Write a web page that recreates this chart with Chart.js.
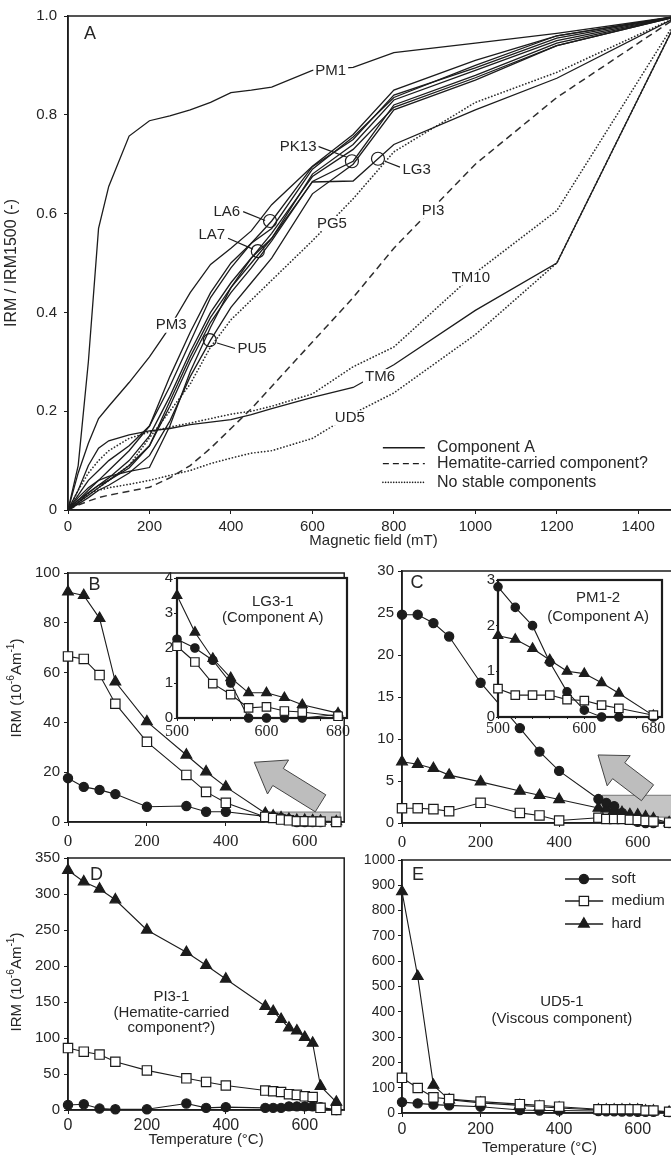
<!DOCTYPE html>
<html><head><meta charset="utf-8"><title>IRM acquisition and thermal demagnetisation</title>
<script src="https://cdn.jsdelivr.net/npm/chart.js@4.4.1/dist/chart.umd.min.js"></script>
<style>
html,body{margin:0;padding:0;background:#fff;overflow:hidden;}
#wrap{position:relative;width:671px;height:1159px;overflow:hidden;background:#fff;}
#wrap canvas{position:absolute;}
</style></head><body>
<div id="wrap">
<canvas id="chartA" width="700" height="550" style="left:0px;top:0px;width:700px;height:550px"></canvas>
<canvas id="chartB" width="352" height="300" style="left:0px;top:560px;width:352px;height:300px"></canvas>
<canvas id="chartC" width="345" height="300" style="left:340px;top:558px;width:345px;height:300px"></canvas>
<canvas id="chartD" width="352" height="314" style="left:0px;top:845px;width:352px;height:314px"></canvas>
<canvas id="chartE" width="345" height="314" style="left:340px;top:845px;width:345px;height:314px"></canvas>
<canvas id="insetB" width="215" height="180" style="left:140px;top:565px;width:215px;height:180px"></canvas>
<canvas id="insetC" width="215" height="180" style="left:460px;top:567px;width:215px;height:180px"></canvas>
</div>
<script>
// ---------------- DATA ----------------
// Panel A: normalised IRM acquisition curves
const fieldSteps = [0,25,50,75,100,150,200,250,300,350,400,450,500,600,700,800,1000,1200,1500];
const irmPM1  = [0,0.09,0.30,0.57,0.655,0.757,0.788,0.798,0.81,0.825,0.845,0.85,0.856,0.89,0.896,0.926,0.945,0.965,1];
const irmPM3  = [0,0.075,0.135,0.185,0.21,0.258,0.31,0.37,0.44,0.497,0.53,0.565,0.618,0.696,0.76,0.85,0.91,0.96,1];
const irmLA6  = [0,0.02,0.04,0.06,0.08,0.12,0.17,0.25,0.34,0.43,0.49,0.54,0.585,0.695,0.75,0.84,0.895,0.955,1];
const irmLA7  = [0,0.015,0.035,0.05,0.065,0.10,0.15,0.23,0.32,0.40,0.46,0.51,0.55,0.68,0.74,0.83,0.89,0.95,1];
const irmPK13 = [0,0.015,0.03,0.045,0.06,0.09,0.13,0.21,0.30,0.38,0.44,0.49,0.545,0.665,0.706,0.82,0.88,0.945,1];
const irmPU5  = [0,0.012,0.025,0.04,0.05,0.075,0.11,0.18,0.27,0.344,0.41,0.46,0.51,0.64,0.70,0.81,0.87,0.94,1];
const irmCompA1 = [0,0.025,0.045,0.06,0.068,0.078,0.086,0.17,0.28,0.37,0.45,0.51,0.56,0.675,0.73,0.815,0.875,0.94,1];
const irmCompA2 = [0,0.03,0.06,0.08,0.10,0.13,0.17,0.27,0.36,0.44,0.50,0.54,0.57,0.69,0.755,0.835,0.90,0.96,1];
const irmLG3  = [0,0.02,0.035,0.05,0.06,0.085,0.13,0.22,0.31,0.39,0.45,0.50,0.55,0.664,0.666,0.74,0.81,0.874,1];
const irmTM6  = [0,0.04,0.09,0.125,0.14,0.152,0.16,0.165,0.173,0.178,0.183,0.193,0.205,0.228,0.248,0.294,0.404,0.5,1];
const irmPI3  = [0,0.01,0.018,0.025,0.03,0.038,0.046,0.065,0.09,0.125,0.165,0.205,0.25,0.34,0.43,0.53,0.70,0.835,1];
const irmPG5  = [0,0.015,0.03,0.045,0.06,0.09,0.146,0.2,0.255,0.33,0.385,0.425,0.465,0.545,0.63,0.725,0.825,0.886,1];
const irmTM10 = [0,0.04,0.075,0.10,0.12,0.145,0.158,0.168,0.176,0.185,0.194,0.20,0.21,0.235,0.29,0.33,0.48,0.606,1];
const irmUD5  = [0,0.015,0.034,0.04,0.045,0.052,0.06,0.07,0.08,0.094,0.105,0.115,0.12,0.145,0.195,0.237,0.355,0.5,1];
// sample-label circles on panel A
const circleField = [697,496,466,761,348];
const circleIrm   = [0.706,0.585,0.524,0.711,0.344];
const fieldTicks = [0,200,400,600,800,1000,1200,1400];
const ratioTicks = [0,0.2,0.4,0.6,0.8,1.0];

// Panels B-E: thermal demagnetisation of three-axis IRM
const tempSteps = [0,40,80,120,200,300,350,400,500,520,540,560,580,600,620,640,680];
const lg3Soft   = [17.6,14.1,12.9,11.2,6.1,6.4,4.1,4.1,2.25,2.0,1.65,1.0,0,0,0,0,0.1];
const lg3Medium = [66.5,65.5,59,47.5,32.2,18.9,12.1,7.7,2.05,1.6,0.98,0.67,0.29,0.32,0.2,0.17,0.05];
const lg3Hard   = [92.4,91,81.8,56.3,40.3,26.9,20.2,14.1,3.5,2.45,1.7,1.15,0.72,0.72,0.58,0.38,0.14];
const pm1Soft   = [24.8,24.8,23.8,22.2,16.7,11.3,8.5,6.2,2.85,2.4,2.0,1.2,0.55,0.15,0,0,0];
const pm1Medium = [1.75,1.75,1.65,1.4,2.4,1.2,0.9,0.3,0.62,0.48,0.48,0.48,0.38,0.36,0.26,0.19,0.04];
const pm1Hard   = [7.3,7.0,6.5,5.7,4.9,3.8,3.3,2.8,1.78,1.7,1.5,1.25,1.0,0.95,0.75,0.52,0.03];
const pi3Soft   = [7,8,2,1,1,9,3,4,3,3,3,5,5,5,5,4,0];
const pi3Medium = [86,81,77,67,55,44,39,34,27,26,25,22,21,19,18,3,0];
const pi3Hard   = [333,317,307,292,250,219,201,182,144,137,126,114,110,101,93,33,11];
const ud5Soft   = [43,38,33,30,25,12,10,10,8,7,7,6,6,5,5,5,4];
const ud5Medium = [139,99,62,55,45,35,30,25,15,15,15,15,15,15,10,10,5];
const ud5Hard   = [875,540,110,52,40,30,25,20,12,12,12,12,12,12,8,8,3];
const tempTicks = [0,200,400,600];
const insetTickMarks = [500,520,540,560,580,600,620,640,660,680];
const insetTickLabels = [500,600,680];
const bTicks = [0,20,40,60,80,100];
const cTicks = [0,5,10,15,20,25,30];
const dTicks = [0,50,100,150,200,250,300,350];
const eTicks = [0,100,200,300,400,500,600,700,800,900,1000];
const insetBTicks = [0,1,2,3,4];
const insetCTicks = [0,1,2,3];

// ---------------- STYLE ----------------
const SANS = '"Liberation Sans", Arial, Helvetica, sans-serif';
const SERIF = '"Liberation Serif", "Times New Roman", Times, serif';
const AX = '#1c1c1c', TX = '#262626', LN = '#1c1c1c';

function pts(xs, ys){ return xs.map((x,i)=>({x:x, y:ys[i]})); }
function solid(ys){ return {data:pts(fieldSteps,ys), borderColor:LN, borderWidth:1.3, pointRadius:0, fill:false}; }
function dotted(ys){ return {data:pts(fieldSteps,ys), borderColor:'#2e2e2e', borderWidth:1.7, borderDash:[0.1,3.2], borderCapStyle:'round', pointRadius:0, fill:false}; }
function dashed(ys){ return {data:pts(fieldSteps,ys), borderColor:'#2e2e2e', borderWidth:1.5, borderDash:[7,4.5], pointRadius:0, fill:false}; }

function triplet(xs, soft, medium, hard, sz){
  const base = {borderColor:LN, borderWidth:1.1, fill:false, clip:false, pointBorderColor:LN, pointBorderWidth:1.2};
  return [
    Object.assign({label:'medium', data:pts(xs,medium), pointStyle:'rect', pointRadius:sz.sq, pointBackgroundColor:'#fff'}, base),
    Object.assign({label:'soft', data:pts(xs,soft), pointStyle:'circle', pointRadius:sz.c, pointBackgroundColor:LN}, base),
    Object.assign({label:'hard', data:pts(xs,hard), pointStyle:'triangle', pointRadius:sz.t, pointBackgroundColor:LN}, base)
  ];
}

function drawMarker(ctx, style, x, y, r){
  ctx.save(); ctx.lineWidth=1.2; ctx.strokeStyle=LN;
  ctx.beginPath();
  if(style==='circle'){ ctx.arc(x,y,r,0,Math.PI*2); ctx.fillStyle=LN; ctx.fill(); ctx.stroke(); }
  else if(style==='rect'){ const s=r*Math.SQRT1_2; ctx.rect(x-s,y-s,2*s,2*s); ctx.fillStyle='#fff'; ctx.fill(); ctx.stroke(); }
  else { let a=0; ctx.moveTo(x+Math.sin(a)*r,y-Math.cos(a)*r); a+=2*Math.PI/3; ctx.lineTo(x+Math.sin(a)*r,y-Math.cos(a)*r); a+=2*Math.PI/3; ctx.lineTo(x+Math.sin(a)*r,y-Math.cos(a)*r); ctx.closePath(); ctx.fillStyle=LN; ctx.fill(); ctx.stroke(); }
  ctx.restore();
}

function drawIrmTitle(ctx, cx, cy, size){
  const parts = [['IRM (10',false],['-6',true],['Am',false],['-1',true],[')',false]];
  ctx.save(); ctx.translate(cx,cy); ctx.rotate(-Math.PI/2);
  const f = s => s+'px '+SANS;
  let w=0; parts.forEach(p=>{ ctx.font=f(p[1]?size*0.68:size); w+=ctx.measureText(p[0]).width; });
  let x=-w/2; ctx.textBaseline='middle'; ctx.fillStyle=TX;
  parts.forEach(p=>{ ctx.font=f(p[1]?size*0.68:size); ctx.fillText(p[0], x, p[1]? -size*0.36 : 0); x+=ctx.measureText(p[0]).width; });
  ctx.restore();
}

const framePlugin = {
  id:'frame',
  beforeDraw(chart, args, o){
    if(!o || !o.white) return;
    const {ctx, chartArea:a} = chart;
    ctx.save(); ctx.fillStyle='#fff'; ctx.fillRect(a.left-1,a.top-1,a.right-a.left+2,a.bottom-a.top+2); ctx.restore();
  },
  beforeDatasetsDraw(chart, args, o){
    const {ctx, chartArea:a} = chart;
    ctx.save(); ctx.strokeStyle=AX; ctx.lineWidth=(o && o.width) || 1.5;
    ctx.strokeRect(a.left, a.top, a.right-a.left, a.bottom-a.top); ctx.restore();
  }
};

const notesPlugin = {
  id:'notes',
  beforeDatasetsDraw(chart, args, o){
    if(!o) return;
    const {ctx, scales:{x,y}} = chart;
    ctx.save();
    (o.rects||[]).forEach(r=>{
      const x0=x.getPixelForValue(r.x0), x1=x.getPixelForValue(r.x1), y0=y.getPixelForValue(r.y0), y1=y.getPixelForValue(r.y1);
      ctx.fillStyle='#c4c4c4'; ctx.fillRect(x0,y1,x1-x0,y0-y1);
      ctx.strokeStyle='#777'; ctx.lineWidth=1; ctx.strokeRect(x0,y1,x1-x0,y0-y1);
    });
    (o.arrows||[]).forEach(ar=>{
      const tx=x.getPixelForValue(ar.tip[0]), ty=y.getPixelForValue(ar.tip[1]);
      const bx=x.getPixelForValue(ar.tail[0]), by=y.getPixelForValue(ar.tail[1]);
      const dx=tx-bx, dy=ty-by, L=Math.hypot(dx,dy), ux=dx/L, uy=dy/L, nx=-uy, ny=ux;
      const hx=tx-ux*ar.head, hy=ty-uy*ar.head;
      const P=[[tx,ty],[hx+nx*ar.hw,hy+ny*ar.hw],[hx+nx*ar.sw,hy+ny*ar.sw],[bx+nx*ar.sw,by+ny*ar.sw],[bx-nx*ar.sw,by-ny*ar.sw],[hx-nx*ar.sw,hy-ny*ar.sw],[hx-nx*ar.hw,hy-ny*ar.hw]];
      ctx.beginPath(); ctx.moveTo(P[0][0],P[0][1]); for(let i=1;i<P.length;i++) ctx.lineTo(P[i][0],P[i][1]); ctx.closePath();
      ctx.fillStyle='#bdbdbd'; ctx.fill(); ctx.strokeStyle='#444'; ctx.lineWidth=1; ctx.stroke();
    });
    ctx.restore();
  },
  afterDatasetsDraw(chart, args, o){
    if(!o) return;
    const {ctx, scales:{x,y}} = chart;
    ctx.save();
    ctx.strokeStyle=LN; ctx.lineWidth=1.2;
    (o.segments||[]).forEach(s=>{ ctx.beginPath(); ctx.moveTo(x.getPixelForValue(s[0]),y.getPixelForValue(s[1])); ctx.lineTo(x.getPixelForValue(s[2]),y.getPixelForValue(s[3])); ctx.stroke(); });
    (o.texts||[]).forEach(t=>{
      const px=x.getPixelForValue(t.x), py=y.getPixelForValue(t.y);
      ctx.font=(t.size||15)+'px '+SANS; ctx.textAlign='center'; ctx.textBaseline='middle';
      if(t.bg){ const w=ctx.measureText(t.t).width; ctx.fillStyle='#fff'; ctx.fillRect(px-w/2-2, py-(t.size||15)*0.5, w+4, (t.size||15)); }
      ctx.fillStyle=TX; ctx.fillText(t.t, px, py);
    });
    (o.legend||[]).forEach(l=>{
      const x0=x.getPixelForValue(l.x0), x1=x.getPixelForValue(l.x1), py=y.getPixelForValue(l.y);
      ctx.save(); ctx.strokeStyle=LN; ctx.lineWidth=l.w||1.3; ctx.setLineDash(l.dash||[]); ctx.lineCap=l.cap||'butt';
      ctx.beginPath(); ctx.moveTo(x0,py); ctx.lineTo(x1,py); ctx.stroke(); ctx.restore();
      if(l.marker) drawMarker(ctx, l.marker, x.getPixelForValue(l.mx), py, l.r);
      ctx.font=(l.size||16)+'px '+SANS; ctx.textAlign='left'; ctx.textBaseline='middle'; ctx.fillStyle=TX;
      ctx.fillText(l.t, x.getPixelForValue(l.tx), py);
    });
    ctx.restore();
  },
  afterDraw(chart, args, o){
    if(o && o.irmTitle) drawIrmTitle(chart.ctx, o.irmTitle.x, o.irmTitle.y, o.irmTitle.size||15);
  }
};

function buildPanel(id, c){
  const xAxis = {
    type:'linear', min:c.xMin, max:c.xMax,
    afterFit:s=>{ s.height=c.xHeight; },
    afterBuildTicks:s=>{ s.ticks=c.xTickMarks.map(v=>({value:v})); },
    ticks:{autoSkip:false, maxRotation:0, minRotation:0, padding:c.xPad, color:TX, font:c.xFont, callback:c.xLabel||(v=>String(v))},
    grid:{display:true, drawOnChartArea:false, drawTicks:true, tickLength:c.xTickLen, color:AX, lineWidth:1},
    border:{display:true, color:AX, width:c.axisW||1.5},
    title: c.xTitle ? {display:true, text:c.xTitle, color:TX, font:{family:SANS,size:15}, padding:{top:0,bottom:c.xTitlePad}} : {display:false}
  };
  const yAxis = {
    type:'linear', min:c.yMin, max:c.yMax,
    afterFit:s=>{ s.width=c.yWidth; },
    afterBuildTicks:s=>{ s.ticks=c.yTickMarks.map(v=>({value:v})); },
    ticks:{autoSkip:false, padding:c.yPad, color:TX, font:c.yFont, callback:c.yLabel||(v=>String(v))},
    grid:{display:true, drawOnChartArea:false, drawTicks:true, tickLength:c.yTickLen, color:AX, lineWidth:1},
    border:{display:true, color:AX, width:c.axisW||1.5},
    title: c.yTitle ? {display:true, text:c.yTitle, color:TX, font:{family:SANS,size:16}, padding:{top:2,bottom:0}} : {display:false}
  };
  return new Chart(document.getElementById(id), {
    type:'line',
    data:{datasets:c.datasets},
    options:{
      responsive:false, animation:false, devicePixelRatio:1, events:[],
      layout:{padding:{top:c.padTop, right:c.padRight, left:0, bottom:0}},
      plugins:{legend:{display:false}, tooltip:{enabled:false}, frame:c.frame||{}, notes:c.notes||{}},
      scales:{x:xAxis, y:yAxis}
    },
    plugins:[framePlugin, notesPlugin]
  });
}

// ---------------- PANEL A ----------------
const circleSet = {type:'scatter', data:pts(circleField, circleIrm), showLine:false, pointStyle:'circle', pointRadius:6.5,
  pointBorderColor:LN, pointBorderWidth:1.2, pointBackgroundColor:'rgba(0,0,0,0)'};
buildPanel('chartA', {
  padTop:10, padRight:21, xHeight:40, yWidth:68,
  xMin:0, xMax:1500, yMin:0, yMax:1,
  xTickMarks:fieldTicks, yTickMarks:ratioTicks,
  xFont:{family:SANS,size:15}, yFont:{family:SANS,size:15},
  xPad:4, yPad:7, xTickLen:4, yTickLen:4,
  yLabel:v=> v===0 ? '0' : v.toFixed(1),
  xTitle:'Magnetic field (mT)', xTitlePad:0,
  yTitle:'IRM / IRM1500 (-)',
  datasets:[circleSet, solid(irmPM1), solid(irmPM3), solid(irmLA6), solid(irmLA7), solid(irmPK13), solid(irmPU5),
    solid(irmCompA1), solid(irmCompA2), solid(irmLG3), solid(irmTM6), dashed(irmPI3), dotted(irmPG5), dotted(irmTM10), dotted(irmUD5)],
  frame:{width:1.5},
  notes:{
    segments:[[614,0.736,685,0.714],[430,0.604,484,0.586],[393,0.55,454,0.528],[778,0.706,815,0.694],[366,0.338,410,0.327]],
    texts:[
      {t:'A', x:54, y:0.964, size:18},
      {t:'PM1', x:645, y:0.888, bg:true},{t:'PM3', x:253, y:0.374, bg:true},
      {t:'PK13', x:565, y:0.736, bg:true},{t:'LA6', x:390, y:0.604, bg:true},{t:'LA7', x:353, y:0.556, bg:true},
      {t:'LG3', x:856, y:0.688, bg:true},{t:'PU5', x:452, y:0.326, bg:true},{t:'PG5', x:648, y:0.58, bg:true},
      {t:'PI3', x:896, y:0.606, bg:true},{t:'TM10', x:989, y:0.47, bg:true},{t:'TM6', x:766, y:0.27, bg:true},
      {t:'UD5', x:692, y:0.186, bg:true}
    ],
    legend:[
      {x0:773, x1:876, y:0.126, tx:906, t:'Component A'},
      {x0:773, x1:876, y:0.094, tx:906, t:'Hematite-carried component?', dash:[6,4]},
      {x0:773, x1:876, y:0.056, tx:906, t:'No stable components', dash:[0.1,2.6], cap:'round', w:1.6}
    ]
  }
});

// ---------------- PANELS B-E ----------------
const mainSize = {c:4.6, sq:6.6, t:6.2};
const insetSize = {c:4.2, sq:6.0, t:5.6};
const i0 = tempSteps.indexOf(500);
const insetTemps = tempSteps.slice(i0);

buildPanel('chartB', {
  padTop:13, padRight:4, xHeight:38, yWidth:68,
  xMin:0, xMax:700, yMin:0, yMax:100, xTickMarks:tempTicks, yTickMarks:bTicks,
  xFont:{family:SERIF,size:17}, yFont:{family:SANS,size:15}, xPad:5, yPad:4, xTickLen:4, yTickLen:4,
  datasets:triplet(tempSteps, lg3Soft, lg3Medium, lg3Hard, mainSize),
  notes:{
    rects:[{x0:500,x1:690,y0:0,y1:4}],
    arrows:[{tip:[472,24], tail:[640,7.5], head:28, hw:20, sw:10}],
    texts:[{t:'B', x:67, y:95, size:18}],
    irmTitle:{x:17, y:128, size:15}
  }
});
buildPanel('chartC', {
  padTop:13, padRight:8, xHeight:35, yWidth:62,
  xMin:0, xMax:700, yMin:0, yMax:30, xTickMarks:tempTicks, yTickMarks:cTicks,
  xFont:{family:SERIF,size:17}, yFont:{family:SANS,size:15}, xPad:5, yPad:4, xTickLen:4, yTickLen:4,
  datasets:triplet(tempSteps, pm1Soft, pm1Medium, pm1Hard, mainSize),
  notes:{
    rects:[{x0:510,x1:700,y0:0.7,y1:3.3}],
    arrows:[{tip:[499,8.1], tail:[625,3.6], head:26, hw:19, sw:10}],
    texts:[{t:'C', x:38, y:28.6, size:18}]
  }
});
buildPanel('chartD', {
  padTop:13, padRight:4, xHeight:49, yWidth:68,
  xMin:0, xMax:700, yMin:0, yMax:350, xTickMarks:tempTicks, yTickMarks:dTicks,
  xFont:{family:SANS,size:16}, yFont:{family:SANS,size:15}, xPad:2, yPad:4, xTickLen:4, yTickLen:4,
  xTitle:'Temperature (°C)', xTitlePad:10,
  datasets:triplet(tempSteps, pi3Soft, pi3Medium, pi3Hard, mainSize),
  notes:{
    texts:[{t:'D', x:72, y:326, size:18},{t:'PI3-1', x:262, y:157},{t:'(Hematite-carried', x:262, y:135},{t:'component?)', x:262, y:114}],
    irmTitle:{x:17, y:137, size:15}
  }
});
buildPanel('chartE', {
  padTop:15, padRight:8, xHeight:46, yWidth:62,
  xMin:0, xMax:700, yMin:0, yMax:1000, xTickMarks:tempTicks, yTickMarks:eTicks,
  xFont:{family:SANS,size:16}, yFont:{family:SANS,size:14}, xPad:3, yPad:3, xTickLen:4, yTickLen:4,
  xTitle:'Temperature (°C)', xTitlePad:2,
  datasets:triplet(tempSteps, ud5Soft, ud5Medium, ud5Hard, mainSize),
  notes:{
    texts:[{t:'E', x:41, y:941, size:18},{t:'UD5-1', x:407, y:439},{t:'(Viscous component)', x:407, y:372}],
    legend:[
      {x0:415, x1:512, y:925, tx:533, t:'soft', marker:'circle', mx:463, r:4.6, size:15, w:1.5},
      {x0:415, x1:512, y:838, tx:533, t:'medium', marker:'rect', mx:463, r:6.6, size:15, w:1.5},
      {x0:415, x1:512, y:747, tx:533, t:'hard', marker:'triangle', mx:463, r:6.2, size:15, w:1.5}
    ]
  }
});

// insets
buildPanel('insetB', {
  padTop:13, padRight:8, xHeight:27, yWidth:37,
  xMin:500, xMax:690, yMin:0, yMax:4, xTickMarks:insetTickMarks, yTickMarks:insetBTicks,
  xLabel:v=> insetTickLabels.includes(v) ? String(v) : '',
  xFont:{family:SERIF,size:16}, yFont:{family:SANS,size:15}, xPad:1, yPad:1, xTickLen:3, yTickLen:3, axisW:2,
  datasets:triplet(insetTemps, lg3Soft.slice(i0), lg3Medium.slice(i0), lg3Hard.slice(i0), insetSize),
  frame:{width:2.2, white:true},
  notes:{texts:[{t:'LG3-1', x:607, y:3.31},{t:'(Component A)', x:607, y:2.86}]}
});
buildPanel('insetC', {
  padTop:13, padRight:13, xHeight:30, yWidth:38,
  xMin:500, xMax:690, yMin:0, yMax:3, xTickMarks:insetTickMarks, yTickMarks:insetCTicks,
  xLabel:v=> insetTickLabels.includes(v) ? String(v) : '',
  xFont:{family:SERIF,size:16}, yFont:{family:SANS,size:15}, xPad:0, yPad:1, xTickLen:2, yTickLen:2, axisW:2,
  datasets:triplet(insetTemps, pm1Soft.slice(i0), pm1Medium.slice(i0), pm1Hard.slice(i0), insetSize),
  frame:{width:2.2, white:true},
  notes:{texts:[{t:'PM1-2', x:616, y:2.6},{t:'(Component A)', x:616, y:2.19}]}
});
</script>
</body></html>
